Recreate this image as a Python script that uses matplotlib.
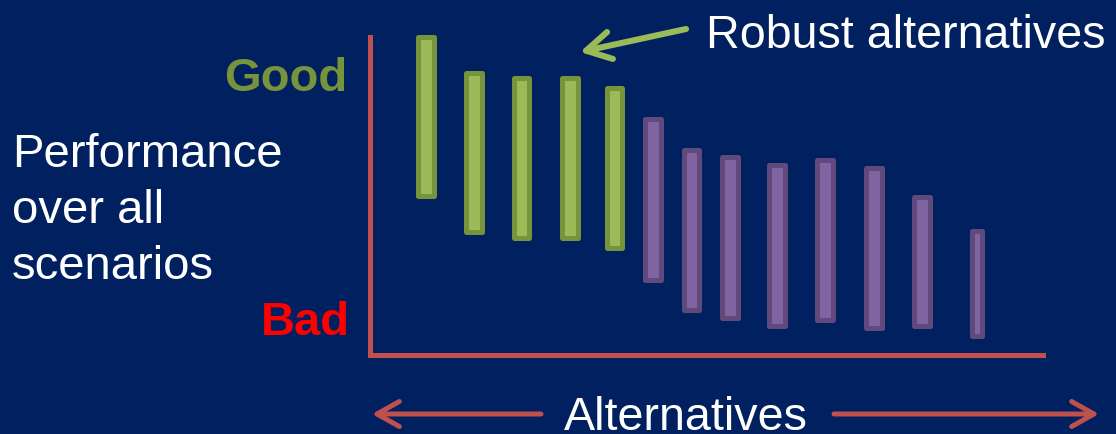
import matplotlib.pyplot as plt
from matplotlib.patches import FancyArrowPatch

plt.rcParams['font.family'] = ['Liberation Sans', 'DejaVu Sans']

BG = '#002060'
AXIS_RED = '#c0504d'

# alternatives: x position and performance range (visible bar extents)
alt_x = [5.6, 10.4, 15.15, 20.0, 24.45, 28.3, 32.15, 36.0, 40.7, 45.5, 50.4, 55.2, 60.65]
perf_top = [10.0, 8.9, 8.72, 8.72, 8.41, 7.44, 6.47, 6.25, 6.0, 6.16, 5.91, 5.0, 3.94]
perf_low = [4.88, 3.78, 3.59, 3.59, 3.28, 2.28, 1.34, 1.09, 0.84, 1.03, 0.75, 0.84, 0.5]
bar_w = [2.05, 2.05, 2.05, 2.05, 2.05, 2.05, 2.05, 2.05, 2.05, 2.05, 2.05, 2.05, 1.5]
robust = [True] * 5 + [False] * 8

fig = plt.figure(figsize=(11.16, 4.34), dpi=100, facecolor=BG)
W, H = 1116, 434

ax = fig.add_axes([370 / W, (H - 355) / H, 673 / W, 321 / H])
ax.set_facecolor(BG)
ax.set_xlim(0, 67.3)
ax.set_ylim(0, 10.03)

edge_px = 5
lw = edge_px * 72 / 100
dx = edge_px / 2 / 10.0
dy = edge_px / 2 / 32.0
for x, t, b, w, r in zip(alt_x, perf_top, perf_low, bar_w, robust):
    fc, ec = ('#9bbb59', '#77933c') if r else ('#8064a2', '#5f4a7b')
    ax.bar(x, (t - dy) - (b + dy), bottom=b + dy, width=w - 2 * dx,
           color=fc, edgecolor=ec, linewidth=lw, joinstyle='round', clip_on=False, zorder=3)

for s in ['top', 'right']:
    ax.spines[s].set_visible(False)
for s in ['left', 'bottom']:
    ax.spines[s].set_color(AXIS_RED)
    ax.spines[s].set_linewidth(3.6)
ax.spines['left'].set_bounds(0, 9.94)
ax.set_xticks([])
ax.set_yticks([])

def fy(px):
    return (H - px) / H

fig.text(347 / W, fy(91), 'Good', color='#77933c', fontsize=34, fontweight='bold',
         ha='right', va='baseline')
fig.text(350 / W, fy(335), 'Bad', color='#ff0000', fontsize=34, fontweight='bold',
         ha='right', va='baseline')
for line, base in zip(['Performance', 'over all', 'scenarios'], [167, 223, 279]):
    fig.text(12 / W, fy(base), line, color='white', fontsize=34, ha='left', va='baseline')
fig.text(706 / W, fy(48), 'Robust alternatives', color='white', fontsize=33.6,
         ha='left', va='baseline')
fig.text(686 / W, fy(430), 'Alternatives', color='white', fontsize=33.6,
         ha='center', va='baseline')

def arrow(x0, y0, x1, y1, color, width=3.6, scale=20):
    a = FancyArrowPatch((x0 / W, fy(y0)), (x1 / W, fy(y1)), transform=fig.transFigure,
                        arrowstyle='->,head_length=0.8,head_width=0.45', mutation_scale=scale,
                        color=color, linewidth=width, shrinkA=0, shrinkB=0,
                        capstyle='round', joinstyle='round')
    fig.add_artist(a)

arrow(541, 414, 372, 414, AXIS_RED)
arrow(834, 414, 1099, 414, AXIS_RED)
arrow(686, 29, 580, 52, '#9bbb59', width=4.4, scale=22)

fig.savefig('out.png', dpi=100, facecolor=BG)
